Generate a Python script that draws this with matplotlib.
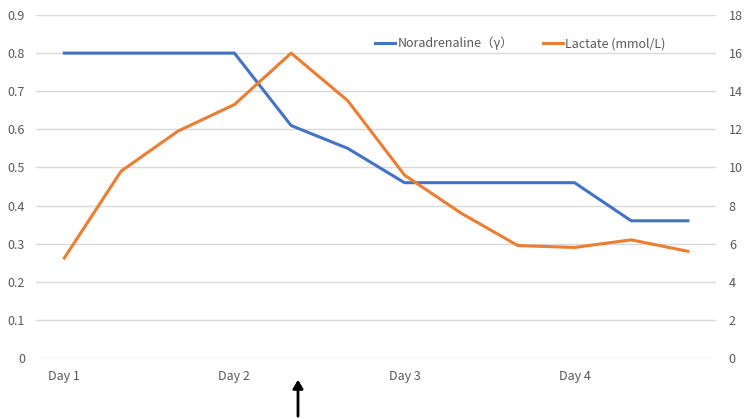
import matplotlib
matplotlib.use("Agg")
import matplotlib.pyplot as plt

plt.rcParams['font.family'] = ['Noto Sans CJK JP', 'DejaVu Sans']

# 12 time points, labelled every third one
labels = ["Day 1", "", "", "Day 2", "", "", "Day 3", "", "", "Day 4", "", ""]
noradrenaline = [0.8, 0.8, 0.8, 0.8, 0.61, 0.55, 0.46, 0.46, 0.46, 0.46, 0.36, 0.36]
lactate = [5.25, 9.8, 11.9, 13.3, 16.0, 13.5, 9.6, 7.6, 5.9, 5.8, 6.2, 5.6]

grey = "#595959"
x = list(range(len(labels)))

fig = plt.figure(figsize=(7.5, 4.19), dpi=100)
ax = fig.add_axes([0.048, 0.1456, 0.907, 0.8186])
ax2 = ax.twinx()

l1, = ax.plot(x, noradrenaline, color="#4472C4", lw=2.2, label="Noradrenaline（γ）")
l2, = ax2.plot(x, lactate, color="#ED7D31", lw=2.2, label="Lactate (mmol/L)")

ax.set_xlim(-0.5, len(labels) - 0.5)
ax.set_ylim(0, 0.9)
ax2.set_ylim(0, 18)
ax.set_yticks([i / 10 for i in range(10)])
ax.set_yticklabels(["0"] + [f"{i/10:.1f}" for i in range(1, 10)])
ax2.set_yticks(range(0, 19, 2))
ax.set_xticks(x)
ax.set_xticklabels(labels)

ax.grid(axis="y", color="#d9d9d9", lw=1)
ax.set_axisbelow(True)
for a in (ax, ax2):
    for s in a.spines.values():
        s.set_visible(False)
    a.tick_params(length=0, labelsize=9, colors=grey)
ax.tick_params(axis="y", pad=8)
ax2.tick_params(axis="y", pad=9)
ax.tick_params(axis="x", pad=9)

ax.legend(handles=[l1, l2], loc="upper center", bbox_to_anchor=(0.712, 0.97),
          ncol=2, frameon=False, fontsize=9, labelcolor=grey,
          handlelength=1.6, handletextpad=0.15, columnspacing=2.4)

# arrow marking the intervention
fig.add_artist(matplotlib.patches.FancyArrowPatch(
    (298 / 750, 0.0), (298 / 750, 1 - 377 / 419), transform=fig.transFigure,
    arrowstyle="-|>,head_width=3,head_length=5", color="black", lw=2))

fig.savefig("out.png", dpi=100)
